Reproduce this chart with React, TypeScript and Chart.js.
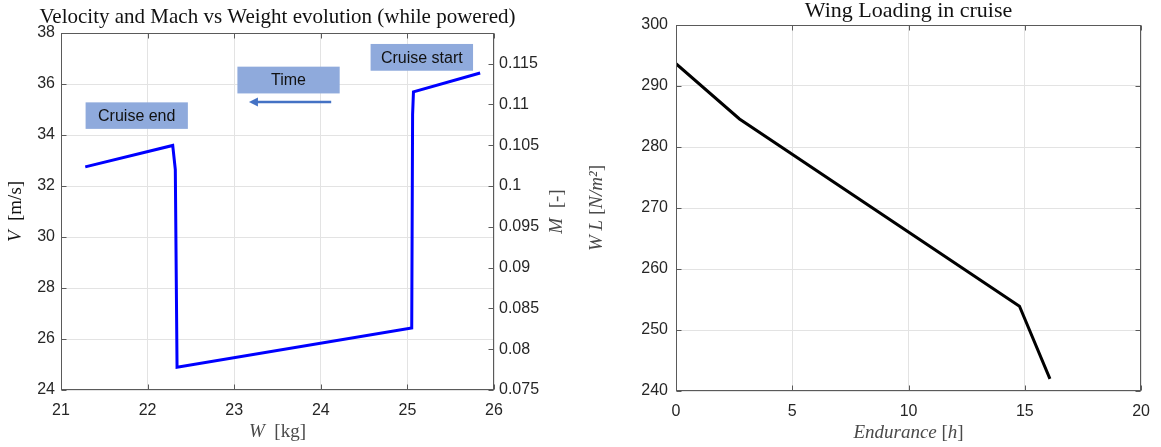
import React, { useEffect, useRef } from 'react';
import { Chart, registerables } from 'chart.js';

Chart.register(...registerables);

// ---------- Data (left chart: velocity vs weight, time runs right -> left) ----------
const W_KG = [25.84, 25.07, 25.06, 25.05, 22.34, 22.32, 22.29, 21.28];
const V_MS = [36.43, 35.69, 34.8, 26.43, 24.89, 32.64, 33.59, 32.75];
const SPEED_OF_SOUND = 320; // M = V / a
const W_RANGE = [21, 26];
const V_RANGE = [24, 38];

// ---------- Data (right chart: wing loading vs endurance) ----------
const ENDURANCE_H = [0, 2.73, 14.77, 16.08];
const WING_LOADING = [293.66, 284.6, 253.9, 242.0];
const E_RANGE = [0, 20];
const WL_RANGE = [240, 300];

// ---------- Annotations (data units of left chart) ----------
const NOTE_TEXT = ['Cruise start', 'Time', 'Cruise end'];
const NOTE_W = [[24.575, 25.758], [23.037, 24.218], [21.284, 22.465]];
const NOTE_V = [[37.57, 36.52], [36.68, 35.63], [35.28, 34.24]];
const ARROW_W = [24.12, 23.17];
const ARROW_V = 35.29;

const SANS = '"Liberation Sans", Arial, sans-serif';
const SERIF = '"Liberation Serif", "Times New Roman", serif';
const TICK_COLOR = '#262626';
const GRID_COLOR = '#e3e3e3';
const LABEL_COLOR = '#4a4a4a';

type Run = [string, boolean];

function drawRuns(ctx: CanvasRenderingContext2D, runs: Run[], size: number, cx: number, cy: number, rot: number, color: string) {
  ctx.save();
  ctx.translate(cx, cy);
  ctx.rotate(rot);
  ctx.fillStyle = color;
  ctx.textBaseline = 'middle';
  ctx.textAlign = 'left';
  let total = 0;
  const widths: number[] = [];
  for (const [t, it] of runs) {
    ctx.font = `${it ? 'italic ' : ''}${size}px ${SERIF}`;
    const w = ctx.measureText(t).width;
    widths.push(w);
    total += w;
  }
  let x = -total / 2;
  runs.forEach(([t, it], i) => {
    ctx.font = `${it ? 'italic ' : ''}${size}px ${SERIF}`;
    ctx.fillText(t, x, 0);
    x += widths[i];
  });
  ctx.restore();
}

function frameAndTicks(chart: any, xId: string, yLeft: string, yRight: string | null) {
  const ctx: CanvasRenderingContext2D = chart.ctx;
  const a = chart.chartArea;
  const L = Math.round(a.left) + 0.5, R = Math.round(a.right) - 0.5;
  const T = Math.round(a.top) + 0.5, B = Math.round(a.bottom) - 0.5;
  ctx.save();
  ctx.strokeStyle = '#5a5a5a';
  ctx.lineWidth = 1;
  ctx.strokeRect(L, T, R - L, B - T);
  const tl = 5;
  ctx.beginPath();
  const xs = chart.scales[xId];
  xs.ticks.forEach((t: any) => {
    const px = Math.round(xs.getPixelForValue(t.value)) + 0.5;
    ctx.moveTo(px, B); ctx.lineTo(px, B - tl);
    ctx.moveTo(px, T); ctx.lineTo(px, T + tl);
  });
  const yl = chart.scales[yLeft];
  yl.ticks.forEach((t: any) => {
    const py = Math.round(yl.getPixelForValue(t.value)) + 0.5;
    ctx.moveTo(L, py); ctx.lineTo(L + tl, py);
    if (!yRight) { ctx.moveTo(R, py); ctx.lineTo(R - tl, py); }
  });
  if (yRight) {
    const yr = chart.scales[yRight];
    yr.ticks.forEach((t: any) => {
      const py = Math.round(yr.getPixelForValue(t.value)) + 0.5;
      ctx.moveTo(R, py); ctx.lineTo(R - tl, py);
    });
  }
  ctx.stroke();
  ctx.restore();
}

const leftDecor = {
  id: 'leftDecor',
  afterDraw(chart: any) {
    const ctx: CanvasRenderingContext2D = chart.ctx;
    const a = chart.chartArea;
    const xs = chart.scales.x, ys = chart.scales.y;
    frameAndTicks(chart, 'x', 'y', 'm');
    // annotation boxes
    ctx.save();
    NOTE_TEXT.forEach((txt, i) => {
      const x0 = xs.getPixelForValue(NOTE_W[i][0]);
      const x1 = xs.getPixelForValue(NOTE_W[i][1]);
      const y0 = ys.getPixelForValue(NOTE_V[i][0]);
      const y1 = ys.getPixelForValue(NOTE_V[i][1]);
      ctx.fillStyle = '#8faadc';
      ctx.fillRect(x0, y0, x1 - x0, y1 - y0);
      ctx.fillStyle = '#111';
      ctx.font = `16px ${SANS}`;
      ctx.textAlign = 'center';
      ctx.textBaseline = 'middle';
      ctx.fillText(txt, (x0 + x1) / 2, (y0 + y1) / 2 + 1);
    });
    // arrow
    const ax0 = xs.getPixelForValue(ARROW_W[0]);
    const ax1 = xs.getPixelForValue(ARROW_W[1]);
    const ay = ys.getPixelForValue(ARROW_V);
    ctx.strokeStyle = '#4472c4';
    ctx.fillStyle = '#4472c4';
    ctx.lineWidth = 2.5;
    ctx.beginPath();
    ctx.moveTo(ax0, ay);
    ctx.lineTo(ax1 + 6, ay);
    ctx.stroke();
    ctx.beginPath();
    ctx.moveTo(ax1, ay);
    ctx.lineTo(ax1 + 9, ay - 4.5);
    ctx.lineTo(ax1 + 9, ay + 4.5);
    ctx.closePath();
    ctx.fill();
    ctx.restore();
    const cx = (a.left + a.right) / 2;
    const cy = (a.top + a.bottom) / 2;
    drawRuns(ctx, [['Velocity and Mach vs Weight evolution (while powered)', false]], 21, cx, 17, 0, '#111');
    drawRuns(ctx, [['W', true], ['  [kg]', false]], 19, cx, 432, 0, LABEL_COLOR);
    drawRuns(ctx, [['V', true], ['  [m/s]', false]], 19, 16, cy, -Math.PI / 2, '#111');
    drawRuns(ctx, [['M', true], ['  [-]', false]], 19, 557, cy, -Math.PI / 2, LABEL_COLOR);
  },
};

const rightDecor = {
  id: 'rightDecor',
  afterDraw(chart: any) {
    const ctx: CanvasRenderingContext2D = chart.ctx;
    const a = chart.chartArea;
    frameAndTicks(chart, 'x', 'y', null);
    const cx = (a.left + a.right) / 2;
    const cy = (a.top + a.bottom) / 2;
    drawRuns(ctx, [['Wing Loading in cruise', false]], 22, cx, 11, 0, '#111');
    drawRuns(ctx, [['Endurance', true], [' [', false], ['h', true], [']', false]], 19, cx, 433, 0, LABEL_COLOR);
    drawRuns(ctx, [['W L', true], [' [', false], ['N/m', true], ['²', true], [']', false]], 19, 17, cy, -Math.PI / 2, LABEL_COLOR);
  },
};

const tickFont = { family: SANS, size: 16 };

function fmt(v: number) {
  return String(Number(v.toFixed(3)));
}

function ChartCanvas({ config, left, width }: { config: () => any; left: number; width: number }) {
  const ref = useRef<HTMLCanvasElement>(null);
  useEffect(() => {
    if (!ref.current) return;
    const chart = new Chart(ref.current, config());
    return () => chart.destroy();
  }, []);
  return (
    <canvas
      ref={ref}
      width={width}
      height={447}
      style={{ position: 'absolute', left, top: 0, width, height: 447 }}
    />
  );
}

function leftConfig() {
  return {
    type: 'line',
    data: {
      datasets: [
        {
          data: W_KG.map((w, i) => ({ x: w, y: V_MS[i] })),
          borderColor: '#0000ff',
          borderWidth: 3,
          pointRadius: 0,
          tension: 0,
          fill: false,
          yAxisID: 'y',
          borderJoinStyle: 'miter',
        },
      ],
    },
    options: {
      animation: false,
      responsive: false,
      devicePixelRatio: 1,
      events: [],
      layout: { padding: { top: 33, left: 0, right: 0, bottom: 0 } },
      plugins: { legend: { display: false }, tooltip: { enabled: false }, title: { display: false } },
      scales: {
        x: {
          type: 'linear',
          min: W_RANGE[0],
          max: W_RANGE[1],
          ticks: { stepSize: 1, font: tickFont, color: TICK_COLOR, padding: 11, callback: fmt },
          grid: { color: GRID_COLOR, drawTicks: false },
          border: { display: false },
          afterFit: (s: any) => { s.height = 57; },
        },
        y: {
          type: 'linear',
          position: 'left',
          min: V_RANGE[0],
          max: V_RANGE[1],
          ticks: { stepSize: 2, font: tickFont, color: TICK_COLOR, padding: 6, callback: fmt },
          grid: { color: GRID_COLOR, drawTicks: false },
          border: { display: false },
          afterFit: (s: any) => { s.width = 61; },
        },
        m: {
          type: 'linear',
          position: 'right',
          min: V_RANGE[0] / SPEED_OF_SOUND,
          max: V_RANGE[1] / SPEED_OF_SOUND,
          ticks: { stepSize: 0.005, includeBounds: false, font: tickFont, color: TICK_COLOR, padding: 5, callback: fmt },
          grid: { display: false, drawTicks: false },
          border: { display: false },
          afterFit: (s: any) => { s.width = 86; },
        },
      },
    },
    plugins: [leftDecor],
  };
}

function rightConfig() {
  return {
    type: 'line',
    data: {
      datasets: [
        {
          data: ENDURANCE_H.map((e, i) => ({ x: e, y: WING_LOADING[i] })),
          borderColor: '#000000',
          borderWidth: 3,
          pointRadius: 0,
          tension: 0,
          fill: false,
          borderJoinStyle: 'miter',
        },
      ],
    },
    options: {
      animation: false,
      responsive: false,
      devicePixelRatio: 1,
      events: [],
      layout: { padding: { top: 25, left: 0, right: 17, bottom: 0 } },
      plugins: { legend: { display: false }, tooltip: { enabled: false }, title: { display: false } },
      scales: {
        x: {
          type: 'linear',
          min: E_RANGE[0],
          max: E_RANGE[1],
          ticks: { stepSize: 5, font: tickFont, color: TICK_COLOR, padding: 11 },
          grid: { color: GRID_COLOR, drawTicks: false },
          border: { display: false },
          afterFit: (s: any) => { s.height = 56; },
        },
        y: {
          type: 'linear',
          min: WL_RANGE[0],
          max: WL_RANGE[1],
          ticks: { stepSize: 10, font: tickFont, color: TICK_COLOR, padding: 8 },
          grid: { color: GRID_COLOR, drawTicks: false },
          border: { display: false },
          afterFit: (s: any) => { s.width = 96; },
        },
      },
    },
    plugins: [rightDecor],
  };
}

export default function App() {
  return (
    <div style={{ position: 'fixed', left: 0, top: 0, width: 1161, height: 447, background: '#fff', overflow: 'hidden' }}>
      <ChartCanvas config={leftConfig} left={0} width={580} />
      <ChartCanvas config={rightConfig} left={580} width={581} />
    </div>
  );
}
